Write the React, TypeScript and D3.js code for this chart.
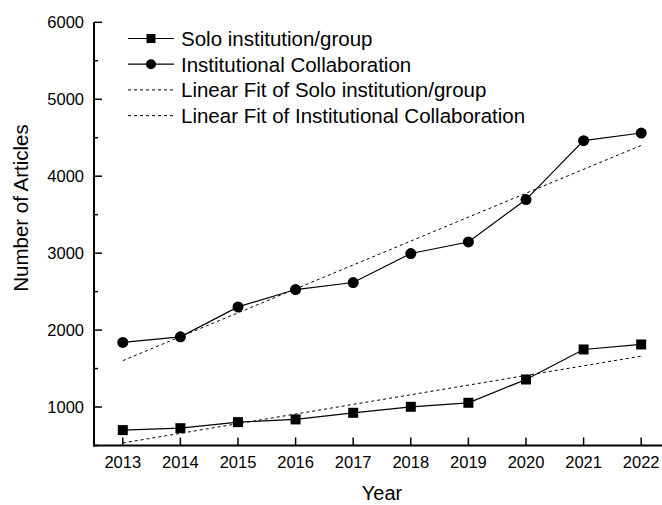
import React from "react";
import * as d3 from "d3";

const years = [2013, 2014, 2015, 2016, 2017, 2018, 2019, 2020, 2021, 2022];
const soloValues = [700, 725, 804, 839, 925, 1003, 1055, 1358, 1748, 1813];
const collabValues = [1840, 1912, 2301, 2527, 2618, 2995, 3145, 3696, 4462, 4561];
const fitYears = [2013, 2022];
const soloFit = [533, 1661];
const collabFit = [1603, 4400];
const yMajorTicks = [1000, 2000, 3000, 4000, 5000, 6000];
const yMinorTicks = [500, 1500, 2500, 3500, 4500, 5500];
const legendLabels = [
  "Solo institution/group",
  "Institutional Collaboration",
  "Linear Fit of Solo institution/group",
  "Linear Fit of Institutional Collaboration",
];

const W = 662;
const H = 505;
const FONT = "'Liberation Sans', Arial, sans-serif";

export default function App() {
  const x = d3.scaleLinear().domain([2012.5, 2022.5]).range([94, 670]);
  const y = d3.scaleLinear().domain([500, 6000]).range([445.5, 22.3]);
  const line = d3
    .line<[number, number]>()
    .x((d) => x(d[0]))
    .y((d) => y(d[1]));
  const soloPts = years.map((yr, i) => [yr, soloValues[i]] as [number, number]);
  const collabPts = years.map((yr, i) => [yr, collabValues[i]] as [number, number]);
  const soloFitPts = fitYears.map((yr, i) => [yr, soloFit[i]] as [number, number]);
  const collabFitPts = fitYears.map((yr, i) => [yr, collabFit[i]] as [number, number]);
  const x0 = x.range()[0];
  const yBase = y(500);
  const legendRowY = (i: number) => 38.5 + i * 25.7;

  return (
    <svg
      width={W}
      height={H}
      style={{ position: "absolute", left: 0, top: 0, background: "#fff" }}
      fontFamily={FONT}
    >
      {/* fit lines */}
      <path d={line(soloFitPts) || ""} fill="none" stroke="#000" strokeWidth={1} strokeDasharray="3,3" />
      <path d={line(collabFitPts) || ""} fill="none" stroke="#000" strokeWidth={1} strokeDasharray="3,3" />
      {/* data lines */}
      <path d={line(soloPts) || ""} fill="none" stroke="#000" strokeWidth={1.2} />
      <path d={line(collabPts) || ""} fill="none" stroke="#000" strokeWidth={1.2} />
      {soloPts.map((p, i) => (
        <rect key={"s" + i} x={x(p[0]) - 5} y={y(p[1]) - 5} width={10} height={10} fill="#000" />
      ))}
      {collabPts.map((p, i) => (
        <circle key={"c" + i} cx={x(p[0])} cy={y(p[1])} r={5.5} fill="#000" />
      ))}

      {/* axes */}
      <line x1={x0} x2={x0} y1={y(6000)} y2={yBase + 1} stroke="#000" strokeWidth={2} />
      <line x1={x0 - 1} x2={W} y1={yBase} y2={yBase} stroke="#000" strokeWidth={2} />
      {yMajorTicks.map((t) => (
        <g key={"ym" + t}>
          <line x1={x0} x2={x0 + 8} y1={y(t)} y2={y(t)} stroke="#000" strokeWidth={1.5} />
          <text x={84} y={y(t)} textAnchor="end" dominantBaseline="central" fontSize={16.5}>
            {t}
          </text>
        </g>
      ))}
      {yMinorTicks.map((t) => (
        <line key={"yn" + t} x1={x0} x2={x0 + 4} y1={y(t)} y2={y(t)} stroke="#000" strokeWidth={1.5} />
      ))}
      {years.map((yr) => (
        <g key={"x" + yr}>
          <line x1={x(yr)} x2={x(yr)} y1={yBase} y2={yBase - 8} stroke="#000" strokeWidth={1.5} />
          <text x={x(yr)} y={468} textAnchor="middle" fontSize={16.5}>
            {yr}
          </text>
        </g>
      ))}
      <text x={382} y={500} textAnchor="middle" fontSize={20}>
        Year
      </text>
      <text
        transform={`translate(28,208) rotate(-90)`}
        textAnchor="middle"
        fontSize={20.5}
      >
        Number of Articles
      </text>

      {/* legend */}
      {legendLabels.map((lab, i) => {
        const ly = legendRowY(i);
        return (
          <g key={"l" + i}>
            <line
              x1={128}
              x2={174}
              y1={ly}
              y2={ly}
              stroke="#000"
              strokeWidth={i < 2 ? 1.2 : 1}
              strokeDasharray={i < 2 ? undefined : "3,3"}
            />
            {i === 0 && <rect x={151 - 4.5} y={ly - 4.5} width={9} height={9} fill="#000" />}
            {i === 1 && <circle cx={151} cy={ly} r={5} fill="#000" />}
            <text x={181} y={ly} dominantBaseline="central" fontSize={20.5}>
              {lab}
            </text>
          </g>
        );
      })}
    </svg>
  );
}
